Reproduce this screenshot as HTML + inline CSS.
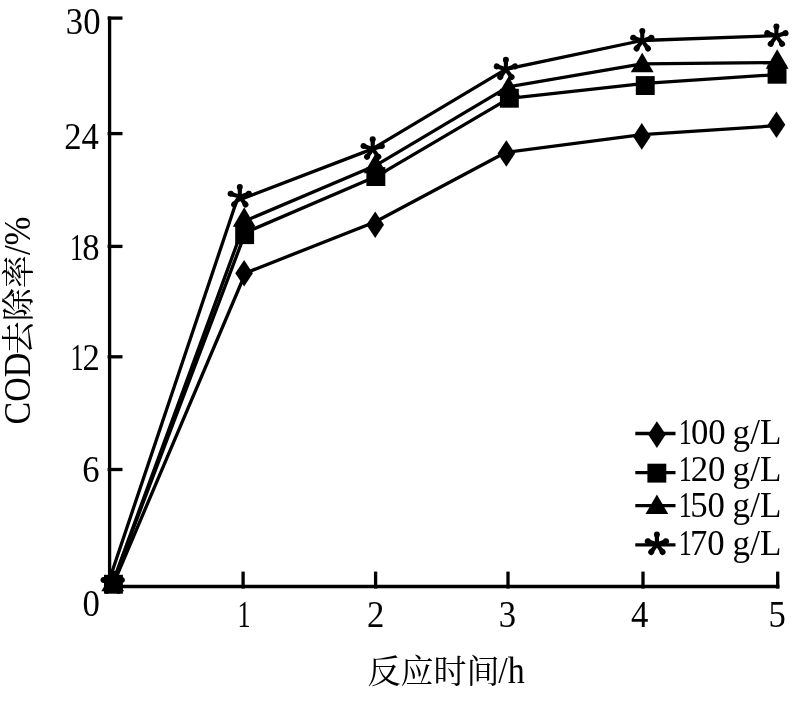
<!DOCTYPE html>
<html lang="zh"><head><meta charset="utf-8"><title>COD去除率</title>
<style>
html,body{margin:0;padding:0;background:#fff}
svg{display:block}
text{font-family:"Liberation Serif","Noto Serif CJK SC",serif;fill:#000;font-kerning:none}
.n{font-size:37.3px}
.l{font-size:36px}
.c{font-size:33px}
</style></head><body>
<svg width="795" height="708" viewBox="0 0 795 708">
<rect width="795" height="708" fill="#fff"/>
<g stroke="#000" stroke-width="3.3" fill="none" stroke-linecap="butt">
<path d="M109.6,16.5 V588.1"/>
<path d="M109.6,586.5 H779.4"/>
<path d="M107.6,18.1 H122.5"/>
<path d="M107.6,133.6 H122.5"/>
<path d="M107.6,246.4 H122.5"/>
<path d="M107.6,356.8 H122.5"/>
<path d="M107.6,469.5 H122.5"/>
<path d="M243.1,571.6 V588.6"/>
<path d="M375.6,571.6 V588.6"/>
<path d="M508.0,571.6 V588.6"/>
<path d="M643.0,571.6 V588.6"/>
<path d="M777.7,571.6 V588.6"/>
</g>
<g stroke="#000" stroke-width="3.3" fill="none" stroke-linejoin="round">
<polyline points="112.5,586.0 245.5,273.0 375.0,222.0 506.0,152.3 642.0,134.7 776.5,125.7"/>
<polyline points="111.5,586.0 245.4,232.6 376.0,176.6 509.0,98.4 645.0,83.3 777.0,74.6"/>
<polyline points="111.5,586.0 245.5,220.7 375.0,165.8 508.0,86.9 642.0,63.8 777.0,62.6"/>
<polyline points="107.3,586.0 236.6,201.0 372.0,149.1 506.0,69.2 642.0,40.5 776.0,35.7"/>
</g>
<g fill="#000">
<polygon points="244.1,259.9 252.9,273.2 244.1,286.5 235.3,273.2"/>
<polygon points="375.2,211.5 384.0,224.8 375.2,238.1 366.4,224.8"/>
<polygon points="506.3,140.2 515.1,153.5 506.3,166.8 497.5,153.5"/>
<polygon points="641.8,123.1 650.6,136.4 641.8,149.7 633.0,136.4"/>
<polygon points="776.5,111.5 785.3,124.8 776.5,138.1 767.7,124.8"/>
<rect x="104.0" y="574.8" width="18.9" height="18.9"/>
<rect x="235.2" y="225.2" width="18.9" height="18.9"/>
<rect x="366.4" y="167.1" width="18.9" height="18.9"/>
<rect x="499.9" y="88.8" width="18.9" height="18.9"/>
<rect x="635.8" y="76.1" width="18.9" height="18.9"/>
<rect x="767.6" y="64.8" width="18.9" height="18.9"/>
<polygon points="112.7,571.8 124.1,591.2 101.3,591.2"/>
<polygon points="244.2,207.3 255.6,226.7 232.8,226.7"/>
<polygon points="375.3,153.9 386.7,173.3 363.9,173.3"/>
<polygon points="508.5,76.5 519.9,95.9 497.1,95.9"/>
<polygon points="642.2,52.8 653.6,72.2 630.8,72.2"/>
<polygon points="777.2,49.3 788.6,68.7 765.8,68.7"/>
<g transform="translate(112.7,583.0)"><g transform="rotate(0)"><polygon points="-1.9,1 1.9,1 2.2,-8.6 -2.2,-8.6"/><circle cx="0" cy="-9.65" r="3.0"/></g><g transform="rotate(72)"><polygon points="-1.9,1 1.9,1 2.2,-8.6 -2.2,-8.6"/><circle cx="0" cy="-9.65" r="3.0"/></g><g transform="rotate(144)"><polygon points="-1.9,1 1.9,1 2.2,-8.6 -2.2,-8.6"/><circle cx="0" cy="-9.65" r="3.0"/></g><g transform="rotate(216)"><polygon points="-1.9,1 1.9,1 2.2,-8.6 -2.2,-8.6"/><circle cx="0" cy="-9.65" r="3.0"/></g><g transform="rotate(288)"><polygon points="-1.9,1 1.9,1 2.2,-8.6 -2.2,-8.6"/><circle cx="0" cy="-9.65" r="3.0"/></g></g>
<g transform="translate(239.8,196.7)"><g transform="rotate(0)"><polygon points="-1.9,1 1.9,1 2.2,-8.6 -2.2,-8.6"/><circle cx="0" cy="-9.65" r="3.0"/></g><g transform="rotate(72)"><polygon points="-1.9,1 1.9,1 2.2,-8.6 -2.2,-8.6"/><circle cx="0" cy="-9.65" r="3.0"/></g><g transform="rotate(144)"><polygon points="-1.9,1 1.9,1 2.2,-8.6 -2.2,-8.6"/><circle cx="0" cy="-9.65" r="3.0"/></g><g transform="rotate(216)"><polygon points="-1.9,1 1.9,1 2.2,-8.6 -2.2,-8.6"/><circle cx="0" cy="-9.65" r="3.0"/></g><g transform="rotate(288)"><polygon points="-1.9,1 1.9,1 2.2,-8.6 -2.2,-8.6"/><circle cx="0" cy="-9.65" r="3.0"/></g></g>
<g transform="translate(372.7,149.0)"><g transform="rotate(0)"><polygon points="-1.9,1 1.9,1 2.2,-8.6 -2.2,-8.6"/><circle cx="0" cy="-9.65" r="3.0"/></g><g transform="rotate(72)"><polygon points="-1.9,1 1.9,1 2.2,-8.6 -2.2,-8.6"/><circle cx="0" cy="-9.65" r="3.0"/></g><g transform="rotate(144)"><polygon points="-1.9,1 1.9,1 2.2,-8.6 -2.2,-8.6"/><circle cx="0" cy="-9.65" r="3.0"/></g><g transform="rotate(216)"><polygon points="-1.9,1 1.9,1 2.2,-8.6 -2.2,-8.6"/><circle cx="0" cy="-9.65" r="3.0"/></g><g transform="rotate(288)"><polygon points="-1.9,1 1.9,1 2.2,-8.6 -2.2,-8.6"/><circle cx="0" cy="-9.65" r="3.0"/></g></g>
<g transform="translate(505.9,69.3)"><g transform="rotate(0)"><polygon points="-1.9,1 1.9,1 2.2,-8.6 -2.2,-8.6"/><circle cx="0" cy="-9.65" r="3.0"/></g><g transform="rotate(72)"><polygon points="-1.9,1 1.9,1 2.2,-8.6 -2.2,-8.6"/><circle cx="0" cy="-9.65" r="3.0"/></g><g transform="rotate(144)"><polygon points="-1.9,1 1.9,1 2.2,-8.6 -2.2,-8.6"/><circle cx="0" cy="-9.65" r="3.0"/></g><g transform="rotate(216)"><polygon points="-1.9,1 1.9,1 2.2,-8.6 -2.2,-8.6"/><circle cx="0" cy="-9.65" r="3.0"/></g><g transform="rotate(288)"><polygon points="-1.9,1 1.9,1 2.2,-8.6 -2.2,-8.6"/><circle cx="0" cy="-9.65" r="3.0"/></g></g>
<g transform="translate(642.3,40.7)"><g transform="rotate(0)"><polygon points="-1.9,1 1.9,1 2.2,-8.6 -2.2,-8.6"/><circle cx="0" cy="-9.65" r="3.0"/></g><g transform="rotate(72)"><polygon points="-1.9,1 1.9,1 2.2,-8.6 -2.2,-8.6"/><circle cx="0" cy="-9.65" r="3.0"/></g><g transform="rotate(144)"><polygon points="-1.9,1 1.9,1 2.2,-8.6 -2.2,-8.6"/><circle cx="0" cy="-9.65" r="3.0"/></g><g transform="rotate(216)"><polygon points="-1.9,1 1.9,1 2.2,-8.6 -2.2,-8.6"/><circle cx="0" cy="-9.65" r="3.0"/></g><g transform="rotate(288)"><polygon points="-1.9,1 1.9,1 2.2,-8.6 -2.2,-8.6"/><circle cx="0" cy="-9.65" r="3.0"/></g></g>
<g transform="translate(776.4,36.1)"><g transform="rotate(0)"><polygon points="-1.9,1 1.9,1 2.2,-8.6 -2.2,-8.6"/><circle cx="0" cy="-9.65" r="3.0"/></g><g transform="rotate(72)"><polygon points="-1.9,1 1.9,1 2.2,-8.6 -2.2,-8.6"/><circle cx="0" cy="-9.65" r="3.0"/></g><g transform="rotate(144)"><polygon points="-1.9,1 1.9,1 2.2,-8.6 -2.2,-8.6"/><circle cx="0" cy="-9.65" r="3.0"/></g><g transform="rotate(216)"><polygon points="-1.9,1 1.9,1 2.2,-8.6 -2.2,-8.6"/><circle cx="0" cy="-9.65" r="3.0"/></g><g transform="rotate(288)"><polygon points="-1.9,1 1.9,1 2.2,-8.6 -2.2,-8.6"/><circle cx="0" cy="-9.65" r="3.0"/></g></g>
</g>
<text class="n" y="34"><tspan x="65.83" textLength="34.69" lengthAdjust="spacingAndGlyphs">30</tspan></text>
<text class="n" y="149.2"><tspan x="64.27" textLength="34.69" lengthAdjust="spacingAndGlyphs">24</tspan></text>
<text class="n" y="260.3"><tspan x="69.90" textLength="13.05" lengthAdjust="spacingAndGlyphs">1</tspan><tspan x="82.17" textLength="17.34" lengthAdjust="spacingAndGlyphs">8</tspan></text>
<text class="n" y="369.5"><tspan x="70.40" textLength="13.05" lengthAdjust="spacingAndGlyphs">1</tspan><tspan x="82.46" textLength="17.34" lengthAdjust="spacingAndGlyphs">2</tspan></text>
<text class="n" y="482.2"><tspan x="82.20" textLength="17.34" lengthAdjust="spacingAndGlyphs">6</tspan></text>
<text class="n" y="616.3"><tspan x="82.57" textLength="17.34" lengthAdjust="spacingAndGlyphs">0</tspan></text>
<text class="n" y="626.8"><tspan x="237.51" textLength="13.05" lengthAdjust="spacingAndGlyphs">1</tspan></text>
<text class="n" y="626.8"><tspan x="367.02" textLength="17.34" lengthAdjust="spacingAndGlyphs">2</tspan></text>
<text class="n" y="626.8"><tspan x="498.87" textLength="17.34" lengthAdjust="spacingAndGlyphs">3</tspan></text>
<text class="n" y="626.8"><tspan x="630.96" textLength="17.34" lengthAdjust="spacingAndGlyphs">4</tspan></text>
<text class="n" y="626.8"><tspan x="768.40" textLength="17.34" lengthAdjust="spacingAndGlyphs">5</tspan></text>
<text class="n"><tspan class="c" x="367.5" y="682.5">反应时间</tspan><tspan x="498.30" y="682.8" textLength="26.40" lengthAdjust="spacingAndGlyphs">/h</tspan></text>
<text class="n" transform="translate(29.8,424.5) rotate(-90)"><tspan x="0.00" y="0" textLength="71.66" lengthAdjust="spacingAndGlyphs">COD</tspan><tspan class="c" x="70.2" y="-0.2">去除率</tspan><tspan x="169.40" y="0" textLength="38.53" lengthAdjust="spacingAndGlyphs">/%</tspan></text>
<path d="M635.3,433.5 H675.5" stroke="#000" stroke-width="3.3"/>
<g fill="#000"><polygon points="656.9,421.3 665.7,434.6 656.9,447.9 648.1,434.6"/></g>
<text class="l" y="444.4"><tspan x="678.70" textLength="13.05" lengthAdjust="spacingAndGlyphs">1</tspan><tspan x="690.97" textLength="34.69" lengthAdjust="spacingAndGlyphs">00</tspan> <tspan x="732.61" textLength="48.69" lengthAdjust="spacingAndGlyphs">g/L</tspan></text>
<path d="M635.3,472.6 H675.5" stroke="#000" stroke-width="3.3"/>
<g fill="#000"><rect x="647.4" y="463.7" width="18.9" height="18.9"/></g>
<text class="l" y="480.6"><tspan x="678.70" textLength="13.05" lengthAdjust="spacingAndGlyphs">1</tspan><tspan x="690.76" textLength="34.69" lengthAdjust="spacingAndGlyphs">20</tspan> <tspan x="732.61" textLength="48.69" lengthAdjust="spacingAndGlyphs">g/L</tspan></text>
<path d="M635.3,505.6 H675.5" stroke="#000" stroke-width="3.3"/>
<g fill="#000"><polygon points="656.9,494.6 668.3,514.0 645.5,514.0"/></g>
<text class="l" y="516.7"><tspan x="678.70" textLength="13.05" lengthAdjust="spacingAndGlyphs">1</tspan><tspan x="690.28" textLength="34.69" lengthAdjust="spacingAndGlyphs">50</tspan> <tspan x="732.61" textLength="48.69" lengthAdjust="spacingAndGlyphs">g/L</tspan></text>
<path d="M635.3,544.8 H675.5" stroke="#000" stroke-width="3.3"/>
<g fill="#000"><g transform="translate(656.9,544.2)"><g transform="rotate(0)"><polygon points="-1.9,1 1.9,1 2.2,-8.6 -2.2,-8.6"/><circle cx="0" cy="-9.65" r="3.0"/></g><g transform="rotate(72)"><polygon points="-1.9,1 1.9,1 2.2,-8.6 -2.2,-8.6"/><circle cx="0" cy="-9.65" r="3.0"/></g><g transform="rotate(144)"><polygon points="-1.9,1 1.9,1 2.2,-8.6 -2.2,-8.6"/><circle cx="0" cy="-9.65" r="3.0"/></g><g transform="rotate(216)"><polygon points="-1.9,1 1.9,1 2.2,-8.6 -2.2,-8.6"/><circle cx="0" cy="-9.65" r="3.0"/></g><g transform="rotate(288)"><polygon points="-1.9,1 1.9,1 2.2,-8.6 -2.2,-8.6"/><circle cx="0" cy="-9.65" r="3.0"/></g></g></g>
<text class="l" y="555.2"><tspan x="678.70" textLength="13.05" lengthAdjust="spacingAndGlyphs">1</tspan><tspan x="690.00" textLength="34.69" lengthAdjust="spacingAndGlyphs">70</tspan> <tspan x="732.61" textLength="48.69" lengthAdjust="spacingAndGlyphs">g/L</tspan></text>
</svg></body></html>
